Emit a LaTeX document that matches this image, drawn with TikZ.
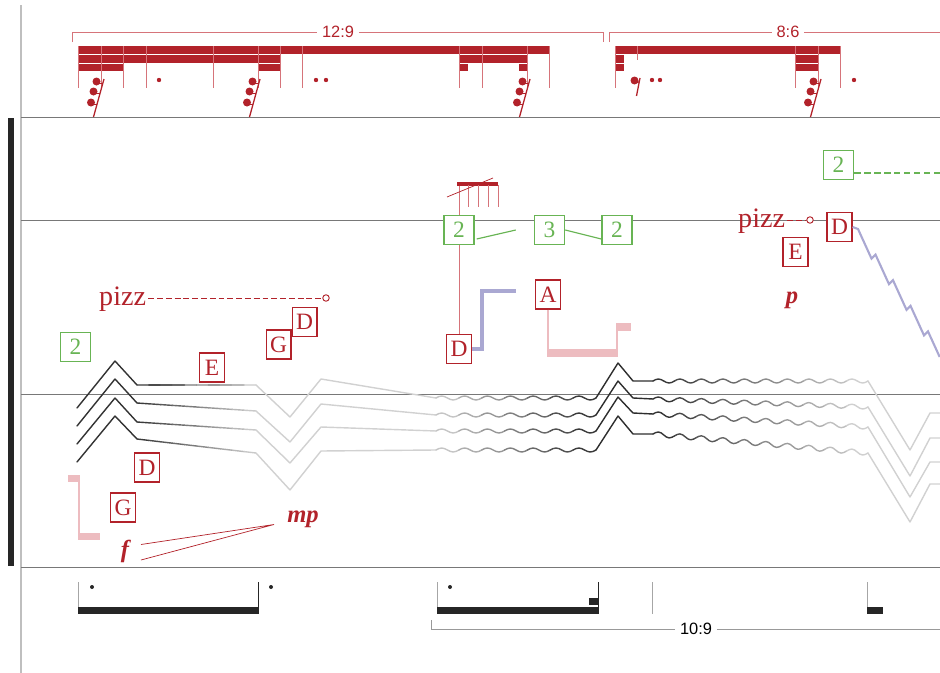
\documentclass[tikz,border=0pt]{standalone}
\usepackage{fontspec}
\setmainfont{Liberation Serif}
\setsansfont{Liberation Sans}
\usepackage{tikz}
\usetikzlibrary{calc}
\usetikzlibrary{backgrounds}

\definecolor{notered}{RGB}{178,34,42}
\definecolor{stemred}{RGB}{214,116,122}
\definecolor{boxgreen}{RGB}{104,180,84}
\definecolor{glisspurple}{RGB}{170,168,210}
\definecolor{glisspink}{RGB}{237,188,192}
\definecolor{staffgray}{RGB}{120,120,120}
\definecolor{bargray}{RGB}{38,38,38}

\newcommand{\fadeseg}[4]{%
    \foreach \k in {0,...,9}{%
        \pgfmathsetmacro{\segA}{\k/10}%
        \pgfmathsetmacro{\segB}{(\k+1)/10}%
        \pgfmathsetmacro{\grayval}{#3+(#4-#3)*(\k+0.5)/10}%
        \draw[voice, draw=black!\grayval] ($(#1)!\segA!(#2)$) -- ($(#1)!\segB!(#2)$);
    }%
}
\newcommand{\wavyline}[7]{%
    \foreach \k in {1,...,#5}{%
        \pgfmathsetmacro{\wxa}{#1+(#3-#1)*(\k-1)/#5}%
        \pgfmathsetmacro{\wxq}{(#3-#1)/#5/4}%
        \pgfmathsetmacro{\wya}{#2+(#4-#2)*(\k-1)/#5}%
        \pgfmathsetmacro{\wyb}{#2+(#4-#2)*\k/#5}%
        \pgfmathsetmacro{\grayval}{#6+(#7-#6)*(\k-0.5)/#5}%
        \draw[voice, draw=black!\grayval] (\wxa,\wya) sin ({\wxa+\wxq},{\wya-2})
            cos ({\wxa+2*\wxq},{(\wya+\wyb)/2}) sin ({\wxa+3*\wxq},{\wyb+2}) cos ({\wxa+4*\wxq},\wyb);
    }%
}

\begin{document}
\begin{tikzpicture}[x=0.03cm, y=-0.03cm,
        staffline/.style={draw=staffgray, line width=0.8pt},
        redbox/.style={draw=notered, text=notered, fill=white, line width=1.3pt, inner sep=0pt,
            minimum width=21pt, minimum height=24.5pt, font=\fontsize{20}{20}\selectfont},
        greenbox/.style={redbox, draw=boxgreen, text=boxgreen, minimum width=25.5pt},
        pizztext/.style={text=notered, inner sep=0pt, font=\fontsize{24}{24}\selectfont},
        pizzend/.style={circle, draw=notered, fill=white, line width=0.8pt, inner sep=0pt, minimum size=5.5pt},
        pizzline/.style={draw=notered, line width=0.8pt, dash pattern=on 5pt off 2.5pt},
        dyn/.style={text=notered, inner sep=0pt, font=\fontsize{21}{21}\selectfont\bfseries\itshape},
        ratio/.style={inner sep=4pt, font=\sffamily\fontsize{14}{14}\selectfont},
        bracket/.style={draw=stemred, line width=0.7pt},
        stem/.style={draw=stemred, line width=0.6pt},
        voice/.style={line width=1.2pt, line cap=round, line join=round},
        gliss/.style={draw=glisspurple, line width=3.4pt},
        pinkthin/.style={draw=glisspink, line width=2pt},
        pinkthick/.style={draw=glisspink, line width=6pt},
        rest32/.pic={
            \draw[notered, line width=1.1pt] (0,0) -- (-10.5,38);
            \fill[notered] (-7.5,2.5) circle[radius=4] (-10.5,12.5) circle[radius=4] (-13,23.5) circle[radius=4];
            \draw[notered, line width=1.1pt] (-7,4.5) -- (-1.2,4.5) (-10,14.5) -- (-4,14.5) (-12.5,25.5) -- (-7,25.5);
        },
        rest8/.pic={
            \draw[notered, line width=1.1pt] (0,0) -- (-3.5,18);
            \fill[notered] (-5.5,2.5) circle[radius=4];
            \draw[notered, line width=1.1pt] (-5,4.5) -- (-0.8,4);
        }
    ]
    \useasboundingbox (0,0) rectangle (940,673);

    \draw[draw=black!25, line width=1.6pt] (21,5) -- (21,673);
    \fill[bargray] (8,118) rectangle (13.5,566);
    \foreach \y in {117,220,394,567}
        \draw[staffline] (21,\y) -- (940,\y);

    % tuplets on top
    \node[ratio, text=notered] (tupA) at (338,32) {12:9};
    \node[ratio, text=notered] (tupB) at (788,32) {8:6};
    \draw[bracket] (72,42) -- (72,32) -- (tupA.west);
    \draw[bracket] (tupA.east) -- (603,32) -- (603,42);
    \draw[bracket] (609,42) -- (609,32) -- (tupB.west);
    \draw[bracket] (tupB.east) -- (940,32);

    \fill[notered] (78,46) rectangle (549,53.5);
    \fill[notered] (78,55) rectangle (280,62.5);
    \fill[notered] (78,64) rectangle (123,71);
    \fill[notered] (258,64) rectangle (280,71);
    \fill[notered] (459,55) rectangle (527,62.5);
    \fill[notered] (459,64) rectangle (468,71);
    \fill[notered] (519,64) rectangle (527,71);
    \fill[notered] (615,46) rectangle (840,53.5);
    \fill[notered] (615,55) rectangle (624,62.5);
    \fill[notered] (615,64) rectangle (624,71);
    \fill[notered] (795,55) rectangle (818,62.5);
    \fill[notered] (795,64) rectangle (818,71);
    \foreach \x in {78,101,123,146,213,258,280,302,459,482,527,549,615,795,818,840}
        \draw[stem] (\x,46) -- (\x,88);
    \draw[stem] (637,46) -- (637,60);

    \pic at (104,79) {rest32};
    \pic at (260,79) {rest32};
    \pic at (530,79) {rest32};
    \pic at (821,79) {rest32};
    \pic at (640,78) {rest8};
    \foreach \x in {159,316,326,652,660,854}
        \fill[notered] (\x,80) circle[radius=2.2];

    % voices
    \foreach \ys/\yp/\yk/\yh/\yv/\yt/\yw/\yq/\yr/\yu/\yx/\yd/\ye in {
            408/361/385/385/417/379/398/363/381/381/381/450/413,
            426/379/403/411/442/404/415/381/398/399/407/476/438,
            444/398/422/430/463/427/431/397/413/414/427/497/462,
            462/416/439/453/490/451/450/416/434/434/453/522/484}{
        \draw[voice, draw=black!80] (77,\ys) -- (115,\yp) -- (137,\yk);
        \fadeseg{137,\yk}{256,\yh}{80}{18}
        \draw[voice, draw=black!18] (256,\yh) -- (290,\yv) -- (321,\yt) -- (436,\yw);
        \wavyline{436}{\yw}{596}{\yw}{7}{18}{82}
        \draw[voice, draw=black!82] (596,\yw) -- (618,\yq) -- (633,\yr) -- (653,\yu);
        \wavyline{653}{\yu}{868}{\yx}{10}{82}{15}
        \draw[voice, draw=black!18] (868,\yx) -- (910,\yd) -- (930,\ye) -- (940,\ye);
    }

    % pink brackets
    \draw[pinkthick] (68,478.5) -- (80,478.5);
    \draw[pinkthin] (79,478) -- (79,537);
    \draw[pinkthick] (78,536.5) -- (100,536.5);

    % mini beam
    \draw[notered, line width=2.6pt] (457,184) -- (498,184);
    \foreach \x in {468,478,488,498}
        \draw[stem] (\x,185) -- (\x,207);
    \draw[notered, line width=0.6pt] (447,197) -- (493,178);

    % boxes
    \node[greenbox] (gA) at (75.5,347) {2};
    \node[greenbox] (gB) at (459,230) {2};
    \node[greenbox] (gC) at (549.5,230) {3};
    \node[greenbox] (gD) at (617,230) {2};
    \node[greenbox] (gE) at (838.5,165) {2};

    \node[redbox] (dTop) at (839.5,227) {D};
    \node[redbox] (eTop) at (795.5,252) {E};
    \node[redbox] (aMid) at (548,294.5) {A};
    \node[redbox] (dMid) at (459,349) {D};
    \node[redbox] (dLeft) at (304.7,322) {D};
    \node[redbox] (gLeft) at (278.7,344.5) {G};
    \node[redbox] (eLeft) at (212,367.5) {E};
    \node[redbox] (dLow) at (147,467.5) {D};
    \node[redbox] (gLow) at (123,507.5) {G};

    \node[pizztext, anchor=base west] (pizzL) at (99,305) {pizz};
    \node[pizzend] (pizzLend) at (326,298) {};
    \node[pizztext, anchor=base west] (pizzR) at (738,227) {pizz};
    \node[pizzend] (pizzRend) at (810,220) {};

    \node[dyn] (mp) at (303,519) {mp};
    \node[dyn] (fL) at (125,551) {f};
    \node[dyn] (pR) at (792,300) {p};

    \coordinate (hairTip) at (274,524.5);
    \coordinate (hairUp) at (141,544.5);
    \coordinate (hairDn) at (141,560);
    \coordinate (glissEnd) at (516,291);
    \coordinate (dashEnd) at (940,173);

    % connectors
    \begin{scope}[on background layer]
        \draw[stem] (dMid.north) -- (dMid.north |- 0,183);
    \end{scope}
    \draw[boxgreen, line width=1pt] ($(gB.east)+(2,9)$) -- ($(gC.west)+(-18,0)$);
    \draw[boxgreen, line width=1pt] (gC.east) -- ($(gD.west)+(0,9)$);
    \draw[boxgreen, line width=1pt, dash pattern=on 5.5pt off 3pt] ($(gE.east)+(0,8)$) -- (dashEnd);
    \draw[pizzline] ($(pizzL.base east)+(2,-7)$) -- (pizzLend);
    \draw[pizzline] ($(pizzR.base east)+(2,-7)$) -- (pizzRend);
    \draw[notered, line width=0.6pt] (hairUp) -- (hairTip) -- (hairDn);
    \draw[gliss, line join=miter] (dMid.east) -| (482,291) -- (glissEnd);
    \draw[glisspurple, line width=1.8pt] (dTop.east) -- (858,229)
        \foreach \n in {0,...,3} { -- ++(13.5,29.6) -- ++(4,-4) } -- ++(11.7,25.6);
    \draw[pinkthin] (aMid.south) |- (617,353) -- (617,327);
    \draw[pinkthick] (547,353) -- (618,353);
    \draw[pinkthick] (616,327) -- (631,327);

    % bottom staff
    \draw[black!35, line width=0.8pt] (78,582) -- (78,614);
    \fill[bargray] (78,607) rectangle (258,614);
    \draw[bargray, line width=0.8pt] (258,582) -- (258,614);
    \draw[black!35, line width=0.8pt] (437,582) -- (437,614);
    \fill[bargray] (437,607) rectangle (598,614);
    \fill[bargray] (589,598) rectangle (598,605);
    \draw[bargray, line width=0.8pt] (598,582) -- (598,614);
    \draw[black!35, line width=0.8pt] (652,582) -- (652,614);
    \draw[black!35, line width=0.8pt] (867,582) -- (867,614);
    \fill[bargray] (867,607) rectangle (883,614);
    \foreach \x in {92,271,450}
        \fill[bargray] (\x,587) circle[radius=2];

    \node[ratio] (tupC) at (696,629) {10:9};
    \draw[black!40, line width=0.7pt] (431,620) -- (431,629) -- (tupC.west);
    \draw[black!40, line width=0.7pt] (tupC.east) -- (940,629);
\end{tikzpicture}
\end{document}
